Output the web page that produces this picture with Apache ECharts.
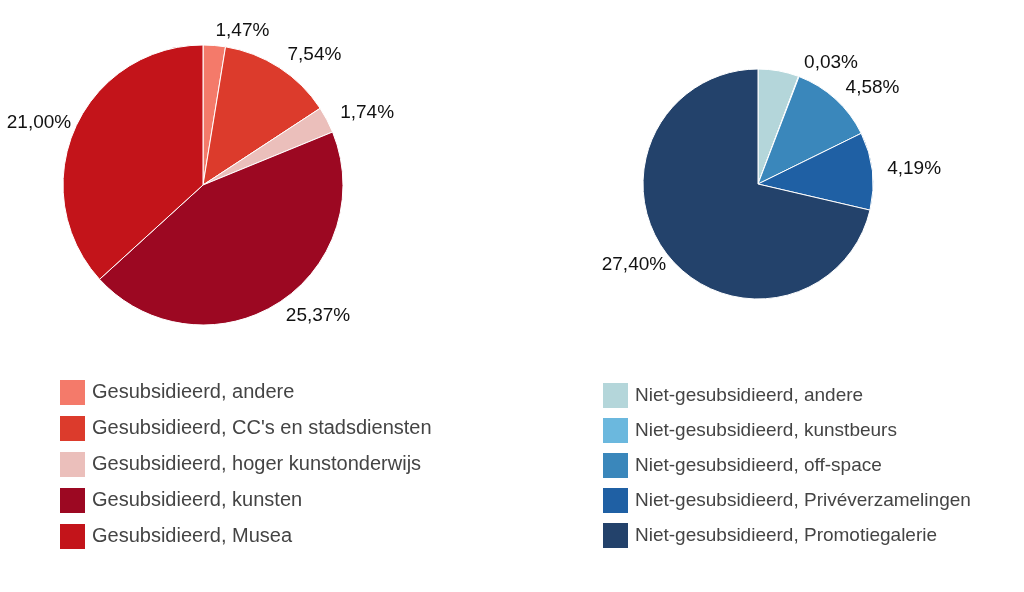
<!DOCTYPE html>
<html>
<head>
<meta charset="utf-8">
<script src="https://cdn.jsdelivr.net/npm/echarts@6/dist/echarts.min.js"></script>
<style>
  html, body { margin: 0; padding: 0; background: #fff; }
  #chart { width: 1024px; height: 592px; }
</style>
</head>
<body>
<div id="chart"></div>
<script>
// gesubsidieerd (linker taart)
const subNames = [
  'Gesubsidieerd, andere',
  "Gesubsidieerd, CC's en stadsdiensten",
  'Gesubsidieerd, hoger kunstonderwijs',
  'Gesubsidieerd, kunsten',
  'Gesubsidieerd, Musea'
];
const subValues = [1.47, 7.54, 1.74, 25.37, 21.00];

// niet-gesubsidieerd (rechter taart)
const nonNames = [
  'Niet-gesubsidieerd, andere',
  'Niet-gesubsidieerd, kunstbeurs',
  'Niet-gesubsidieerd, off-space',
  'Niet-gesubsidieerd, Privéverzamelingen',
  'Niet-gesubsidieerd, Promotiegalerie'
];
const nonValues = [2.2, 0.03, 4.58, 4.19, 27.40];
// label van 'andere' staat niet in het origineel
const nonShowLabel = [false, true, true, true, true];

const subColors = ['#f47a6a', '#dc3b2c', '#ebbfbb', '#9c0822', '#c3141a'];
const nonColors = ['#b4d6da', '#6bb8de', '#3a87bb', '#1f60a4', '#23426b'];

const font = '"Liberation Sans", Arial, sans-serif';

function fmt(v) {
  return v.toFixed(2).replace('.', ',') + '%';
}

function buildData(names, values, colors, showLabel) {
  return names.map((n, i) => ({
    name: n,
    value: values[i],
    itemStyle: { color: colors[i] },
    label: { show: showLabel ? showLabel[i] : true }
  }));
}

function pieSeries(name, center, radius, data) {
  return {
    name: name,
    type: 'pie',
    center: center,
    radius: radius,
    startAngle: 90,
    clockwise: true,
    avoidLabelOverlap: true,
    itemStyle: { borderColor: '#fff', borderWidth: 1 },
    label: {
      position: 'outside',
      color: '#111',
      fontSize: 19,
      fontFamily: font,
      overflow: 'none',
      distanceToLabelLine: 0,
      formatter: p => fmt(p.value)
    },
    labelLine: { show: false, length: 15, length2: 0 },
    // labels aan de linkerkant iets dichter bij de taart
    labelLayout: p => (p.align === 'right' ? { dx: 10 } : {}),
    emphasis: { scale: false },
    data: data
  };
}

const chart = echarts.init(document.getElementById('chart'));

const legendBase = {
  orient: 'vertical',
  itemWidth: 27,
  itemHeight: 27,
  icon: 'rect'
};

chart.setOption({
  animation: false,
  legend: [
    Object.assign({}, legendBase, {
      left: 53, top: 373, itemGap: 7, data: subNames,
      textStyle: { fontSize: 20, color: '#444', fontFamily: font, padding: [0, 0, 0, 1] }
    }),
    Object.assign({}, legendBase, {
      left: 596, top: 376, itemGap: 6, data: nonNames,
      textStyle: { fontSize: 19, color: '#444', fontFamily: font, padding: [0, 0, 0, 1] }
    })
  ],
  series: [
    pieSeries('Gesubsidieerd', [203, 185], 140, buildData(subNames, subValues, subColors)),
    pieSeries('Niet-gesubsidieerd', [758, 184], 115, buildData(nonNames, nonValues, nonColors, nonShowLabel))
  ]
});
</script>
</body>
</html>
